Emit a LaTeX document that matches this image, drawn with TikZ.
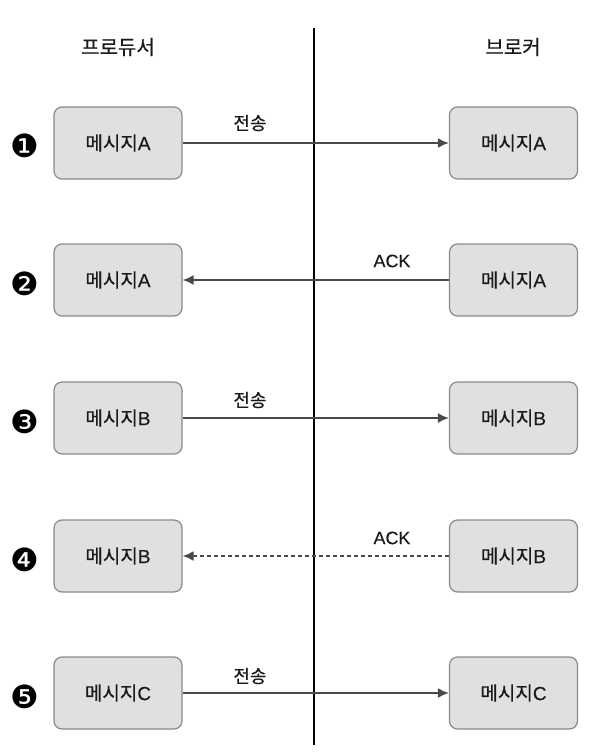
\documentclass[tikz,border=0pt]{standalone}
\usepackage{fontspec}
\setmainfont[FakeBold=0.3]{Liberation Sans}
\newfontfamily\kr[FakeBold=0.5]{Noto Sans CJK KR}
\newfontfamily\symfont{DejaVu Sans}
\usetikzlibrary{arrows.meta}
\definecolor{boxfill}{HTML}{E0E0E0}
\definecolor{boxdraw}{HTML}{8A8A8A}
\definecolor{linegray}{HTML}{4A4A4A}
\definecolor{txt}{HTML}{1A1A1A}
\tikzset{
  msg/.style={draw=boxdraw, fill=boxfill, rounded corners=8pt, line width=1.2pt,
    minimum width=128pt, minimum height=72pt, inner sep=0pt, text=txt,
    font=\fontsize{19}{21}\selectfont},
  hdr/.style={font=\fontsize{20}{22}\selectfont\kr, text=txt},
  num/.style={font=\symfont\fontsize{32}{34}\selectfont, inner sep=0pt},
  lbl/.style={font=\fontsize{18}{20}\selectfont, text=txt},
  conn/.style={draw=linegray, line width=1.8pt, -{Latex[length=11pt,width=10pt]}},
  dconn/.style={conn, dash pattern=on 4pt off 3pt}
}
\begin{document}
\begin{tikzpicture}[x=1pt,y=-1pt]
\useasboundingbox (0,0) rectangle (596,754);
\coordinate (ltop) at (314,28);
\coordinate (lbot) at (314,745);
\draw[line width=1.2pt] (ltop) -- (lbot);
\node[hdr] (hp) at (118,47) {프로듀서};
\node[hdr] (hb) at (513,47) {브로커};
\foreach \i/\y/\t in {1/143/A,2/280/A,3/418/B,4/556/B,5/693/C}{
  \node[msg] (l\i) at (118,\y) {{\kr 메시지}\t};
  \node[msg] (r\i) at (513.5,\y) {{\kr 메시지}\t};
}
\node[num] (n1) at (25,146) {❶};
\node[num] (n2) at (25,284) {❷};
\node[num] (n3) at (25,422) {❸};
\node[num] (n4) at (25,560) {❹};
\node[num] (n5) at (25,697) {❺};
\draw[conn] (l1) -- (r1);
\draw[conn] (r2) -- (l2);
\draw[conn] (l3) -- (r3);
\draw[dconn] (r4) -- (l4);
\draw[conn] (l5) -- (r5);
\node[lbl] (t1) at (250,123) {\kr 전송};
\node[lbl] (t2) at (392,261) {ACK};
\node[lbl] (t3) at (250,400) {\kr 전송};
\node[lbl] (t4) at (392,538) {ACK};
\node[lbl] (t5) at (250,676) {\kr 전송};
\end{tikzpicture}
\end{document}
